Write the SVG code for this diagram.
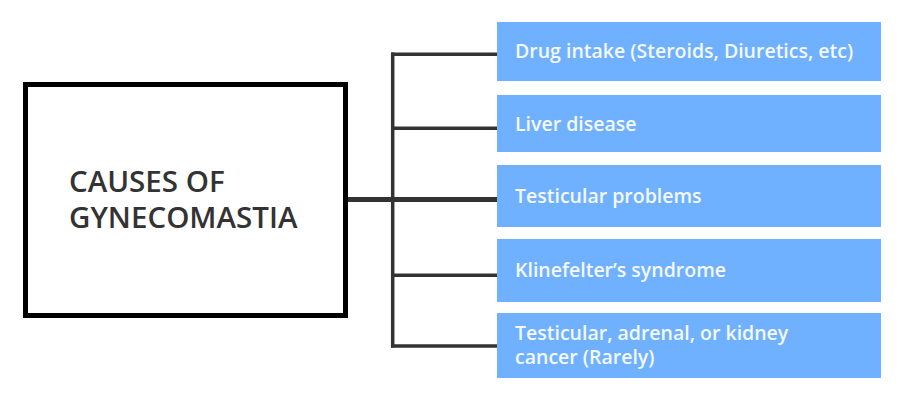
<svg xmlns="http://www.w3.org/2000/svg" width="907" height="400" viewBox="0 0 907 400">
<style>
.box{fill:#6fb1ff;}
.lbl{font-family:"Open Sans","Noto Sans",sans-serif;font-size:19.5px;font-weight:600;fill:#f4f8ff;}
.title{font-family:"Open Sans","Noto Sans",sans-serif;font-size:29.5px;font-weight:600;fill:#333333;}
.conn{stroke:#333333;fill:none;stroke-width:3.5;}
</style>
<rect width="907" height="400" fill="#ffffff"/>
<g id="root">
<rect x="25.5" y="84.5" width="320" height="231" fill="#ffffff" stroke="#000000" stroke-width="5"/>
<text class="title" x="69" y="192">CAUSES OF</text>
<text class="title" x="69" y="228">GYNECOMASTIA</text>
</g>
<g id="connectors">
<line class="conn" x1="348" y1="199.5" x2="497" y2="199.5" style="stroke-width:5"/>
<line class="conn" x1="392.7" y1="52.5" x2="392.7" y2="347.5"/>
<line class="conn" x1="391" y1="54.3" x2="497" y2="54.3"/>
<line class="conn" x1="391" y1="128.3" x2="497" y2="128.3"/>
<line class="conn" x1="391" y1="275.3" x2="497" y2="275.3"/>
<line class="conn" x1="391" y1="346" x2="497" y2="346"/>
</g>
<g id="n1"><rect class="box" x="497" y="22" width="384" height="59"/><text class="lbl" x="515" y="58">Drug intake (Steroids, Diuretics, etc)</text></g>
<g id="n2"><rect class="box" x="497" y="95" width="384" height="57"/><text class="lbl" x="515" y="131">Liver disease</text></g>
<g id="n3"><rect class="box" x="497" y="165" width="384" height="62"/><text class="lbl" x="515" y="203">Testicular problems</text></g>
<g id="n4"><rect class="box" x="497" y="239" width="384" height="63"/><text class="lbl" x="515" y="277">Klinefelter’s syndrome</text></g>
<g id="n5"><rect class="box" x="497" y="313" width="384" height="65"/><text class="lbl" x="515" y="340">Testicular, adrenal, or kidney</text><text class="lbl" x="515" y="364">cancer (Rarely)</text></g>
</svg>
